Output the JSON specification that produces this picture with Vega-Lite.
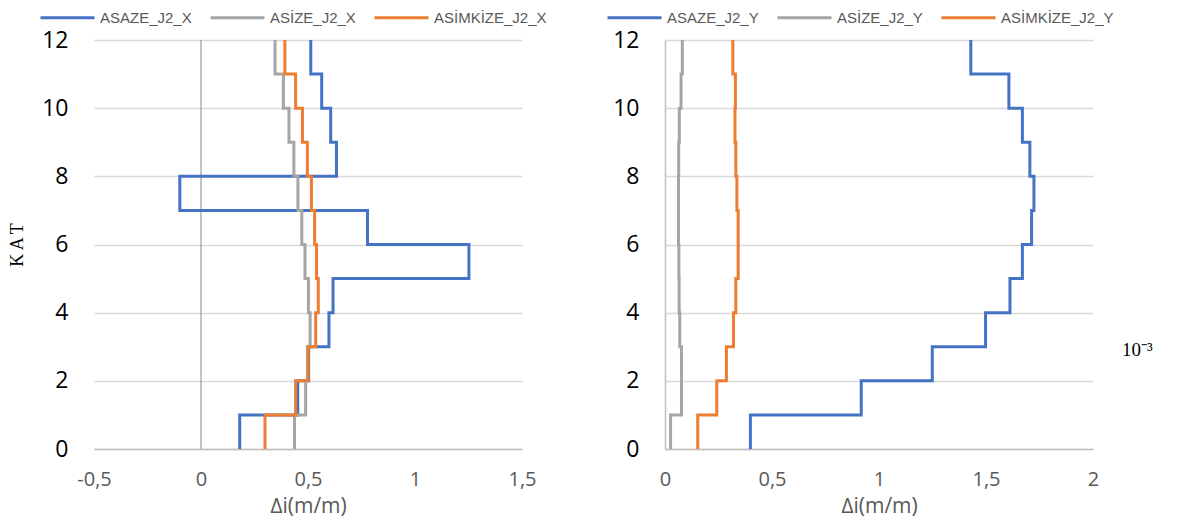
{
  "$schema": "https://vega.github.io/schema/vega-lite/v6.json",
  "background": "white",
  "padding": {"left": 8, "top": -11, "right": 5, "bottom": 5},
  "datasets": {
    "d": [
      {"p": "X", "s": "ASAZE_J2_X", "k": 0, "v": 0.181},
      {"p": "X", "s": "ASAZE_J2_X", "k": 1, "v": 0.452},
      {"p": "X", "s": "ASAZE_J2_X", "k": 2, "v": 0.503},
      {"p": "X", "s": "ASAZE_J2_X", "k": 3, "v": 0.598},
      {"p": "X", "s": "ASAZE_J2_X", "k": 4, "v": 0.617},
      {"p": "X", "s": "ASAZE_J2_X", "k": 5, "v": 1.252},
      {"p": "X", "s": "ASAZE_J2_X", "k": 6, "v": 0.778},
      {"p": "X", "s": "ASAZE_J2_X", "k": 7, "v": -0.099},
      {"p": "X", "s": "ASAZE_J2_X", "k": 8, "v": 0.633},
      {"p": "X", "s": "ASAZE_J2_X", "k": 9, "v": 0.606},
      {"p": "X", "s": "ASAZE_J2_X", "k": 10, "v": 0.564},
      {"p": "X", "s": "ASAZE_J2_X", "k": 11, "v": 0.513},
      {"p": "X", "s": "ASAZE_J2_X", "k": 12, "v": 0.513},
      {"p": "X", "s": "ASİZE_J2_X", "k": 0, "v": 0.437},
      {"p": "X", "s": "ASİZE_J2_X", "k": 1, "v": 0.489},
      {"p": "X", "s": "ASİZE_J2_X", "k": 2, "v": 0.498},
      {"p": "X", "s": "ASİZE_J2_X", "k": 3, "v": 0.51},
      {"p": "X", "s": "ASİZE_J2_X", "k": 4, "v": 0.502},
      {"p": "X", "s": "ASİZE_J2_X", "k": 5, "v": 0.486},
      {"p": "X", "s": "ASİZE_J2_X", "k": 6, "v": 0.471},
      {"p": "X", "s": "ASİZE_J2_X", "k": 7, "v": 0.453},
      {"p": "X", "s": "ASİZE_J2_X", "k": 8, "v": 0.434},
      {"p": "X", "s": "ASİZE_J2_X", "k": 9, "v": 0.411},
      {"p": "X", "s": "ASİZE_J2_X", "k": 10, "v": 0.385},
      {"p": "X", "s": "ASİZE_J2_X", "k": 11, "v": 0.346},
      {"p": "X", "s": "ASİZE_J2_X", "k": 12, "v": 0.346},
      {"p": "X", "s": "ASİMKİZE_J2_X", "k": 0, "v": 0.299},
      {"p": "X", "s": "ASİMKİZE_J2_X", "k": 1, "v": 0.442},
      {"p": "X", "s": "ASİMKİZE_J2_X", "k": 2, "v": 0.5},
      {"p": "X", "s": "ASİMKİZE_J2_X", "k": 3, "v": 0.536},
      {"p": "X", "s": "ASİMKİZE_J2_X", "k": 4, "v": 0.548},
      {"p": "X", "s": "ASİMKİZE_J2_X", "k": 5, "v": 0.54},
      {"p": "X", "s": "ASİMKİZE_J2_X", "k": 6, "v": 0.531},
      {"p": "X", "s": "ASİMKİZE_J2_X", "k": 7, "v": 0.516},
      {"p": "X", "s": "ASİMKİZE_J2_X", "k": 8, "v": 0.497},
      {"p": "X", "s": "ASİMKİZE_J2_X", "k": 9, "v": 0.474},
      {"p": "X", "s": "ASİMKİZE_J2_X", "k": 10, "v": 0.442},
      {"p": "X", "s": "ASİMKİZE_J2_X", "k": 11, "v": 0.392},
      {"p": "X", "s": "ASİMKİZE_J2_X", "k": 12, "v": 0.392},
      {"p": "Y", "s": "ASAZE_J2_Y", "k": 0, "v": 0.399},
      {"p": "Y", "s": "ASAZE_J2_Y", "k": 1, "v": 0.917},
      {"p": "Y", "s": "ASAZE_J2_Y", "k": 2, "v": 1.249},
      {"p": "Y", "s": "ASAZE_J2_Y", "k": 3, "v": 1.498},
      {"p": "Y", "s": "ASAZE_J2_Y", "k": 4, "v": 1.612},
      {"p": "Y", "s": "ASAZE_J2_Y", "k": 5, "v": 1.67},
      {"p": "Y", "s": "ASAZE_J2_Y", "k": 6, "v": 1.713},
      {"p": "Y", "s": "ASAZE_J2_Y", "k": 7, "v": 1.724},
      {"p": "Y", "s": "ASAZE_J2_Y", "k": 8, "v": 1.705},
      {"p": "Y", "s": "ASAZE_J2_Y", "k": 9, "v": 1.67},
      {"p": "Y", "s": "ASAZE_J2_Y", "k": 10, "v": 1.607},
      {"p": "Y", "s": "ASAZE_J2_Y", "k": 11, "v": 1.429},
      {"p": "Y", "s": "ASAZE_J2_Y", "k": 12, "v": 1.429},
      {"p": "Y", "s": "ASİZE_J2_Y", "k": 0, "v": 0.026},
      {"p": "Y", "s": "ASİZE_J2_Y", "k": 1, "v": 0.077},
      {"p": "Y", "s": "ASİZE_J2_Y", "k": 2, "v": 0.077},
      {"p": "Y", "s": "ASİZE_J2_Y", "k": 3, "v": 0.069},
      {"p": "Y", "s": "ASİZE_J2_Y", "k": 4, "v": 0.066},
      {"p": "Y", "s": "ASİZE_J2_Y", "k": 5, "v": 0.065},
      {"p": "Y", "s": "ASİZE_J2_Y", "k": 6, "v": 0.063},
      {"p": "Y", "s": "ASİZE_J2_Y", "k": 7, "v": 0.063},
      {"p": "Y", "s": "ASİZE_J2_Y", "k": 8, "v": 0.064},
      {"p": "Y", "s": "ASİZE_J2_Y", "k": 9, "v": 0.067},
      {"p": "Y", "s": "ASİZE_J2_Y", "k": 10, "v": 0.075},
      {"p": "Y", "s": "ASİZE_J2_Y", "k": 11, "v": 0.081},
      {"p": "Y", "s": "ASİZE_J2_Y", "k": 12, "v": 0.081},
      {"p": "Y", "s": "ASİMKİZE_J2_Y", "k": 0, "v": 0.153},
      {"p": "Y", "s": "ASİMKİZE_J2_Y", "k": 1, "v": 0.242},
      {"p": "Y", "s": "ASİMKİZE_J2_Y", "k": 2, "v": 0.287},
      {"p": "Y", "s": "ASİMKİZE_J2_Y", "k": 3, "v": 0.32},
      {"p": "Y", "s": "ASİMKİZE_J2_Y", "k": 4, "v": 0.331},
      {"p": "Y", "s": "ASİMKİZE_J2_Y", "k": 5, "v": 0.342},
      {"p": "Y", "s": "ASİMKİZE_J2_Y", "k": 6, "v": 0.342},
      {"p": "Y", "s": "ASİMKİZE_J2_Y", "k": 7, "v": 0.336},
      {"p": "Y", "s": "ASİMKİZE_J2_Y", "k": 8, "v": 0.331},
      {"p": "Y", "s": "ASİMKİZE_J2_Y", "k": 9, "v": 0.327},
      {"p": "Y", "s": "ASİMKİZE_J2_Y", "k": 10, "v": 0.329},
      {"p": "Y", "s": "ASİMKİZE_J2_Y", "k": 11, "v": 0.317},
      {"p": "Y", "s": "ASİMKİZE_J2_Y", "k": 12, "v": 0.317}
    ],
    "note": [{"t": "10⁻³", "x": 2.136, "y": 2.9}],
    "zero": [{"v": 0}]
  },
  "spacing": 143,
  "bounds": "flush",
  "hconcat": [
    {
      "width": 428,
      "height": 409,
      "layer": [
        {
          "data": {"name": "zero"},
          "mark": {"type": "rule", "color": "#8A8A8A", "strokeWidth": 1},
          "encoding": {
            "x": {"field": "v", "type": "quantitative", "scale": {"domain": [-0.5, 1.5], "nice": false, "zero": false}, "axis": {"title": "∆i(m/m)"}}
          }
        },
        {
          "data": {"name": "d"},
          "transform": [{"filter": "datum.p === 'X'"}],
          "mark": {"type": "line", "interpolate": "step-before", "strokeWidth": 3},
          "encoding": {
            "x": {
              "field": "v", "type": "quantitative",
              "scale": {"domain": [-0.5, 1.5], "nice": false, "zero": false},
              "axis": {
                "title": "∆i(m/m)", "values": [-0.5, 0, 0.5, 1, 1.5], "grid": false, "ticks": false, "labelFlush": false,
                "domainColor": "#BFBFBF", "domainWidth": 1.5,
                "labelExpr": "replace(replace(format(datum.value, ''), '.', ','), '−', '-')",
                "labelFontSize": 20, "labelColor": "#595959", "labelPadding": 20,
                "titleFontSize": 21, "titleColor": "#595959", "titleFontWeight": "normal", "titlePadding": 6
              }
            },
            "y": {
              "field": "k", "type": "quantitative",
              "scale": {"domain": [0, 12], "nice": false},
              "axis": {
                "title": "K A T", "values": [0, 2, 4, 6, 8, 10, 12], "grid": true, "gridColor": "#D9D9D9", "gridWidth": 1.5,
                "domain": false, "ticks": false, "labelFontSize": 23, "labelColor": "#000000", "labelPadding": 26,
                "titleFont": "Liberation Serif", "titleFontSize": 18, "titleFontWeight": "normal", "titleColor": "#000000", "titlePadding": 15
              }
            },
            "color": {
              "field": "s", "type": "nominal",
              "scale": {"domain": ["ASAZE_J2_X", "ASİZE_J2_X", "ASİMKİZE_J2_X"], "range": ["#4472C4", "#A5A5A5", "#ED7D31"]},
              "legend": {"orient": "none", "legendX": -55, "legendY": -51, "direction": "horizontal", "title": null}
            },
            "order": {"field": "k", "type": "quantitative"}
          }
        }
      ]
    },
    {
      "width": 428,
      "height": 409,
      "layer": [
        {
          "data": {"name": "d"},
          "transform": [{"filter": "datum.p === 'Y'"}],
          "mark": {"type": "line", "interpolate": "step-before", "strokeWidth": 3},
          "encoding": {
            "x": {
              "field": "v", "type": "quantitative",
              "scale": {"domain": [0, 2], "nice": false, "zero": false},
              "axis": {
                "title": "∆i(m/m)", "values": [0, 0.5, 1, 1.5, 2], "grid": false, "ticks": false, "labelFlush": false,
                "domainColor": "#BFBFBF", "domainWidth": 1.5,
                "labelExpr": "replace(replace(format(datum.value, ''), '.', ','), '−', '-')",
                "labelFontSize": 20, "labelColor": "#595959", "labelPadding": 20,
                "titleFontSize": 21, "titleColor": "#595959", "titleFontWeight": "normal", "titlePadding": 6
              }
            },
            "y": {
              "field": "k", "type": "quantitative",
              "scale": {"domain": [0, 12], "nice": false},
              "axis": {
                "title": null, "values": [0, 2, 4, 6, 8, 10, 12], "grid": true, "gridColor": "#D9D9D9", "gridWidth": 1.5,
                "domain": true, "domainColor": "#BFBFBF", "domainWidth": 1.5, "ticks": false,
                "labelFontSize": 23, "labelColor": "#000000", "labelPadding": 26
              }
            },
            "color": {
              "field": "s", "type": "nominal",
              "scale": {"domain": ["ASAZE_J2_Y", "ASİZE_J2_Y", "ASİMKİZE_J2_Y"], "range": ["#4472C4", "#A5A5A5", "#ED7D31"]},
              "legend": {"orient": "none", "legendX": -59, "legendY": -51, "direction": "horizontal", "title": null}
            },
            "order": {"field": "k", "type": "quantitative"}
          }
        },
        {
          "data": {"name": "note"},
          "mark": {"type": "text", "font": "Liberation Serif", "fontSize": 19, "align": "left", "baseline": "middle", "color": "#000000", "clip": false},
          "encoding": {
            "x": {"field": "x", "type": "quantitative"},
            "y": {"field": "y", "type": "quantitative"},
            "text": {"field": "t"}
          }
        }
      ]
    }
  ],
  "resolve": {"scale": {"color": "independent", "x": "independent", "y": "independent"}, "legend": {"color": "independent"}},
  "config": {
    "view": {"stroke": null},
    "font": "Open Sans",
    "axis": {"labelFont": "Open Sans", "titleFont": "Open Sans"},
    "legend": {
      "symbolType": "stroke", "symbolSize": 2916, "symbolStrokeWidth": 3, "labelFont": "Liberation Sans",
      "labelFontSize": 15, "labelColor": "#595959", "columnPadding": 12, "labelOffset": 4, "labelLimit": 300
    }
  }
}
